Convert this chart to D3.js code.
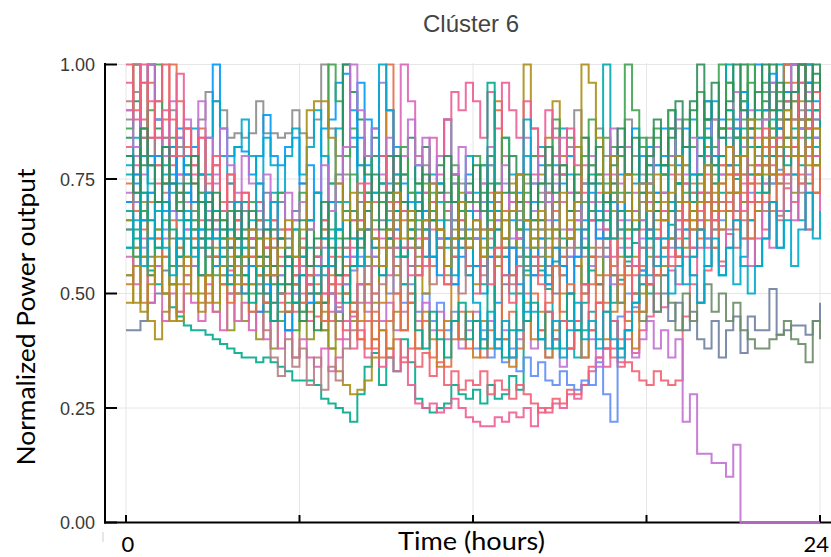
<!DOCTYPE html>
<html>
<head>
<meta charset="utf-8">
<script src="https://cdn.jsdelivr.net/npm/d3@7"></script>
<style>
  body { margin: 0; background: #fff; }
  svg { display: block; }
</style>
</head>
<body>
<svg id="chart" width="831" height="557"></svg>
<script>
// normalized power, in %, one value per 15 min (96 steps + closing value)
const s01 = [60,64,58,55,52,50,47,45, 43,42,42,41,40,39,38,37, 36,36,35,36,35,34,33,31, 31,31,30,27,26,25,24,22,
             28,34,37,30,36,33,40,35, 27,25,24,25,26,30,28,27, 29,26,30,27,28,32,29,55, 60,55,51,57,62,58,64,60,
             55,52,58,48,53,57,61,55, 50,54,60,65,58,62,68,64, 70,66,72,68,75,70,66,72, 78,74,80,76,82,78,74,80, 76];
const s02 = [70,78,66,72,80,74,68,76, 64,70,62,58,66,60,55,62, 58,52,56,50,54,48,52,46, 50,44,48,42,46,40,44,38,
             42,36,40,34,38,33,36,30, 26,25,26,24,25,27,25,23, 22,21,21,23,22,24,23,25, 21,25,24,26,25,28,27,30,
             33,36,34,38,35,40,37,42, 45,50,47,55,52,58,54,60, 62,68,64,70,66,74,70,76, 72,78,74,80,76,84,80,86, 82];
const s03 = [82,76,88,80,74,84,78,72, 76,70,66,72,64,68,60,64, 58,62,54,60,52,56,50,54, 48,52,45,50,44,47,42,46,
             40,44,38,42,36,40,35,38, 34,37,32,35,30,33,29,31, 30,33,28,31,29,27,30,28, 26,24,25,27,26,29,28,30,
             34,36,38,36,34,35,33,31, 30,33,31,30,31,45,52,48, 55,60,57,63,60,66,62,68, 64,70,67,73,70,76,72,78, 74];
const s04 = [66,72,68,62,70,64,74,68, 72,66,76,70,64,68,60,66, 62,58,64,56,60,54,58,52, 56,50,54,48,52,46,50,55,
             58,52,60,54,50,56,48,52, 46,50,44,48,42,46,40,44, 38,42,36,40,35,38,33,36, 32,35,31,30,33,30,29,31,
             30,35,28,22,45,50,47,55, 52,58,54,62,58,64,60,66, 62,70,66,72,68,76,72,78, 74,80,77,84,80,86,82,88, 84];
const s05 = [72,80,76,84,78,70,82,76, 70,78,72,66,74,68,62,70, 64,58,66,60,54,62,56,50, 58,52,48,56,50,46,54,48,
             52,46,50,44,48,42,46,50, 44,48,42,46,40,44,38,42, 46,40,44,38,42,36,40,44, 38,42,36,40,34,38,42,36,
             40,34,38,44,38,42,36,40, 44,38,42,36,40,22,28,15, 15,13,13,10,17,0,0,0, 0,0,0,0,0,0,0,0, 0];
const s06 = [42,42,44,48,50,55,52,58, 62,56,60,66,58,64,70,62, 68,60,66,72,64,70,62,68, 74,66,72,64,70,76,68,62,
             70,64,58,66,72,60,68,56, 64,58,70,62,56,66,60,54, 62,56,64,58,52,60,66,58, 54,62,56,50,58,64,56,52,
             58,52,60,54,48,56,50,46, 52,46,50,44,48,42,46,40, 38,44,36,42,45,37,45,42, 42,51,41,42,43,43,41,44, 48];
const s07 = [54,60,66,58,64,70,62,56, 62,68,60,54,62,56,50,58, 52,60,54,48,56,50,58,52, 46,54,48,56,50,44,52,58,
             64,56,62,70,60,66,58,64, 70,62,68,74,66,60,68,62, 56,64,58,66,60,54,62,56, 64,58,52,60,54,62,56,50,
             58,52,46,54,48,56,50,44, 52,46,54,48,42,50,44,48, 52,46,50,44,48,42,40,38, 38,40,41,44,40,39,35,44, 40];
const s08 = [88,94,86,100,92,84,90,82, 86,80,88,94,92,90,84,85, 84,85,92,85,85,84,85,90, 85,84,88,100,86,80,76,82,
             78,72,80,74,68,76,70,66, 72,78,70,64,72,66,74,68, 62,70,64,58,66,60,68,74, 80,72,78,86,76,82,90,84,
             78,86,80,74,82,88,80,76, 84,78,72,80,86,78,70,76, 82,88,80,76,84,90,86,80, 88,94,86,92,100,90,96,88, 92];
const s09 = [80,74,84,78,88,82,76,86, 78,82,76,70,100,86,80,82, 81,76,80,89,80,78,82,84, 74,78,72,86,88,96,98,90,
             84,78,86,80,74,82,76,70, 78,72,66,74,68,62,70,76, 68,62,70,64,58,66,72,64, 70,78,72,66,74,80,72,66,
             74,68,62,70,76,68,74,80, 72,78,86,80,74,82,88,80, 86,92,84,78,88,94,86,82, 90,96,88,100,94,86,100,92, 96];
const s10 = [90,100,84,96,78,88,100,92, 82,74,86,70,78,66,74,62, 70,58,66,54,62,50,58,48, 56,46,52,44,50,60,54,48,
             56,64,50,60,100,74,66,72, 60,68,56,64,52,60,70,62, 56,64,72,60,68,54,62,70, 62,54,60,68,58,50,56,64,
             52,60,48,56,64,54,46,52, 60,54,62,70,58,66,74,64, 72,80,70,78,86,76,84,74, 82,90,80,88,96,86,100,90, 96];
const s11 = [86,100,80,90,100,74,84,70, 78,66,72,62,68,58,64,54, 60,50,56,46,52,44,48,42, 46,52,58,48,100,92,80,86,
             72,80,66,74,62,70,58,66, 74,64,72,60,68,76,64,72, 80,70,78,68,60,72,64,58, 66,74,62,70,78,68,60,70,
             78,66,74,82,72,64,76,84, 76,86,78,70,80,88,76,84, 92,82,100,90,80,88,96,86, 94,84,92,100,88,96,86,94, 88];
const s12 = [54,48,58,44,40,46,52,44, 50,56,48,54,60,52,58,50, 56,62,54,48,56,64,58,52, 60,54,50,46,38,33,30,28,
             29,31,36,42,38,46,52,48, 56,50,58,64,54,62,70,60, 52,60,68,58,66,74,64,100, 86,76,84,92,80,72,82,74,
             66,74,62,70,80,68,58,66, 74,64,72,62,70,78,66,74, 82,72,80,88,76,84,74,82, 90,80,88,96,84,92,82,90, 86];
const s13 = [76,70,80,74,68,78,72,66, 72,64,70,76,66,60,68,62, 70,64,58,66,72,62,56,64, 58,66,60,54,62,70,60,56,
             64,72,62,56,64,58,52,60, 68,58,66,74,62,70,60,54, 62,52,60,68,58,50,58,66, 56,64,54,40,38,44,36,42,
             46,40,100,44,38,42,48,52, 78,68,76,86,74,82,72,80, 88,78,86,100,84,92,82,90, 80,88,100,92,84,100,90,82, 88];
const s14 = [52,58,48,54,62,50,56,46, 52,60,54,48,56,62,52,58, 50,56,62,54,60,52,46,54, 60,52,58,64,54,50,56,48,
             44,52,40,48,90,56,42,50, 38,46,40,34,44,52,40,46, 36,44,38,92,40,34,42,48, 40,46,36,42,50,38,44,36,
             42,48,40,46,54,44,38,46, 72,62,70,78,68,74,66,72, 80,70,78,68,76,84,74,70, 78,86,76,84,92,80,88,78, 84];
const s15 = [66,60,70,56,64,58,52,60, 54,62,50,58,46,54,42,50, 44,52,40,48,38,46,42,36, 44,40,48,42,38,46,50,44,
             52,58,48,56,62,54,60,66, 58,64,70,62,56,64,72,60, 66,58,64,56,62,70,60,54, 62,56,64,70,60,66,58,52,
             60,54,62,68,58,64,56,50, 58,66,56,62,70,60,68,76, 66,74,64,72,80,70,78,68, 76,84,74,82,72,80,88,78, 82];
const s16 = [78,84,72,80,88,76,82,74, 80,86,76,84,92,80,74,82, 88,80,74,84,78,72,80,86, 76,82,90,80,74,86,100,84,
             78,70,80,74,66,76,70,64, 72,66,76,70,62,74,68,80, 72,78,68,74,84,76,70,80, 74,82,70,78,86,76,68,74,
             66,74,62,70,64,56,68,60, 54,62,58,50,56,64,54,48, 56,64,54,60,52,58,66,56, 62,70,60,68,76,66,100,80, 86];
const s17 = [64,70,60,66,56,62,68,58, 64,56,62,68,58,52,60,66, 56,62,52,58,48,54,60,50, 56,48,54,60,50,46,52,58,
             62,68,58,96,90,64,60,68, 60,66,74,62,70,58,64,72, 62,70,78,66,74,62,70,60, 68,60,66,74,64,58,66,62,
             56,64,58,52,60,66,56,62, 70,62,68,60,66,74,64,70, 78,68,76,84,72,80,70,76, 84,74,82,90,80,86,76,84, 80];
const s18 = [58,52,62,48,56,44,50,46, 54,48,44,52,46,42,50,44, 48,42,46,40,44,38,42,36, 40,36,34,38,33,36,40,45,
             52,48,56,62,54,60,100,92, 80,72,84,76,68,74,66,60, 68,74,64,72,80,70,62,70, 76,66,72,80,70,64,72,78,
             70,62,68,76,66,60,68,74, 64,72,66,58,64,70,60,66, 60,68,56,64,72,62,56,62, 70,60,68,76,66,74,64,72, 68];
const s19 = [84,92,78,100,86,74,80,72, 66,74,62,70,58,64,56,62, 54,62,50,58,48,56,46,52, 44,50,42,48,56,64,100,94,
             88,76,84,72,80,68,76,84, 74,82,70,78,88,76,68,74, 64,72,80,70,62,68,76,66, 58,66,74,64,56,62,70,60,
             68,76,66,74,82,72,64,70, 78,68,76,86,74,82,92,80, 88,78,86,96,84,100,88,82, 92,100,86,94,100,88,96,100, 92];
const s20 = [92,100,86,78,84,72,80,68, 76,64,70,58,66,54,60,50, 56,46,52,42,36,32,40,34, 38,30,36,29,34,31,38,42,
             48,56,44,52,60,50,58,48, 54,62,52,60,68,58,50,56, 64,54,62,70,60,52,58,66, 56,64,72,62,54,60,68,58,
             66,58,64,72,62,56,64,70, 62,70,60,68,76,66,58,64, 72,64,70,78,68,62,70,76, 68,76,66,74,82,72,64,72, 78];
const s21 = [70,76,66,72,80,68,74,84, 76,70,64,60,56,62,54,58, 50,56,46,52,44,50,42,48, 54,48,56,62,70,64,58,66,
             96,88,72,80,70,64,74,68, 60,68,58,54,62,52,58,64, 56,50,58,48,54,60,52,46, 54,62,52,60,56,50,58,64,
             72,62,70,80,68,76,86,74, 82,72,80,90,78,86,76,84, 92,80,88,78,86,94,84,100, 90,98,86,94,100,88,96,84, 90];
const s22 = [74,68,64,70,62,58,66,60, 56,62,54,50,58,52,48,56, 52,46,54,48,44,50,46,52, 48,56,50,44,52,58,50,46,
             40,38,46,36,44,50,42,48, 38,44,36,42,34,40,46,38, 44,36,42,90,40,46,38,44, 50,42,48,56,46,52,44,50,
             58,48,54,62,52,58,50,56, 64,54,60,68,58,66,72,62, 70,60,68,76,64,72,62,70, 78,68,76,100,80,74,82,72, 78];
const s23 = [64,58,68,54,60,66,56,62, 58,64,70,60,54,62,68,58, 64,70,62,56,64,72,60,66, 72,64,58,66,74,62,68,76,
             66,72,80,70,64,74,82,72, 66,74,68,60,70,78,68,62, 70,78,66,74,84,72,64,72, 80,70,78,88,76,84,72,80,
             88,76,84,72,80,100,90,82, 74,84,76,90,80,72,82,94, 84,76,86,96,84,92,100,88, 96,86,94,84,92,100,88,96, 90];
const s24 = [90,82,96,100,88,80,92,84, 88,80,92,84,76,86,78,72, 80,74,68,76,70,64,72,66, 70,64,72,78,68,74,82,100,
             90,80,86,76,84,72,80,88, 78,84,74,80,88,76,82,72, 66,74,82,72,78,68,76,84, 74,80,70,76,84,72,66,74,
             80,70,76,86,74,82,72,66, 74,82,72,80,88,76,84,72, 80,88,76,86,94,82,90,78, 88,96,84,92,100,88,94,84, 90];
const s25 = [96,88,100,92,84,90,80,98, 86,76,84,72,78,68,76,66, 72,62,70,60,66,56,64,54, 60,52,58,50,56,48,54,60,
             66,74,64,56,62,70,60,54, 62,56,64,72,88,94,90,96, 92,84,94,86,96,90,84,92, 86,80,90,84,76,86,78,72,
             66,72,64,58,68,62,56,64, 70,62,68,76,66,74,64,72, 80,70,78,86,76,68,76,84, 74,82,90,80,88,96,86,80, 88];
const s26 = [68,62,72,66,60,70,64,58, 66,60,54,62,68,58,52,60, 54,48,56,50,44,52,58,48, 54,60,50,56,64,54,48,56,
             62,70,60,54,62,68,58,64, 42,38,46,40,36,44,48,40, 44,38,96,40,36,42,50,44, 48,40,46,38,44,50,42,48,
             76,66,72,62,68,58,64,72, 62,70,78,68,74,82,70,76, 84,74,80,90,78,86,76,82, 72,80,90,78,86,100,84,90, 82];
const s27 = [100,90,96,84,92,100,88,80, 86,78,84,74,80,70,76,66, 72,64,70,60,66,58,64,56, 62,54,60,66,58,52,60,66,
             74,64,70,80,70,62,68,60, 54,62,70,60,52,58,66,56, 50,58,52,60,54,48,56,50, 58,52,46,40,44,38,44,52,
             42,48,38,44,40,46,54,60, 52,58,66,56,62,70,60,68, 76,66,74,82,72,80,70,78, 86,76,84,92,82,100,86,94, 88];
const s28 = [60,66,56,62,70,60,54,62, 68,58,64,72,62,56,64,70, 60,66,74,64,70,62,56,64, 58,66,72,62,56,64,70,62,
             56,64,72,100,90,80,70,62, 70,64,58,66,60,54,62,68, 48,40,46,38,44,36,42,88, 46,40,38,44,36,42,48,40,
             44,38,46,40,36,42,48,54, 64,56,62,70,60,52,58,64, 56,62,54,60,66,56,50,56, 62,70,60,66,56,64,72,62, 68];
const s29 = [80,72,86,78,70,82,74,68, 74,80,70,64,72,66,60,68, 62,68,58,64,56,62,52,58, 66,56,62,70,60,54,62,68,
             60,68,76,64,72,80,70,62, 68,76,66,72,80,70,62,70, 78,68,74,64,72,80,70,76, 66,74,82,72,78,68,76,84,
             74,82,70,78,86,76,84,72, 80,88,78,84,92,82,90,100, 88,96,84,92,100,90,86,94, 100,90,96,88,94,100,92,98, 94];
const s30 = [48,56,46,52,58,50,44,52, 58,50,46,54,48,56,62,52, 58,64,56,62,54,60,66,58, 64,90,92,92,84,74,66,72,
             64,70,62,56,64,72,62,68, 60,66,74,64,56,62,70,60, 66,58,64,72,62,68,76,66, 60,68,58,64,72,62,70,100,
             96,84,72,80,70,76,66,74, 68,76,66,72,80,70,64,70, 78,68,74,82,72,80,88,76, 84,76,82,90,80,88,78,86, 80];

const seriesList = [s01, s02, s03, s04, s05, s06, s07, s08, s09, s10, s11, s12, s13, s14, s15,
                    s16, s17, s18, s19, s20, s21, s22, s23, s24, s25, s26, s27, s28, s29, s30];
const seriesColors = ["#00A98D", "#ED5E93", "#F16072", "#618DF6", "#C371D2", "#6E7FA0", "#6C8B67", "#8C8C8C",
                      "#009AFA", "#E36F47", "#3EA44E", "#AC8E18", "#00AAAE", "#C68225", "#8E971E", "#00A8CB",
                      "#9B7FE9", "#DC65B7", "#2E8F5A", "#B57E82", "#009AFA", "#E36F47", "#3EA44E", "#C371D2",
                      "#ED5E93", "#00A98D", "#F16072", "#00A8CB", "#2E8F5A", "#AC8E18"];

const yTicks = [0, 0.25, 0.5, 0.75, 1];
const xTicks = [0, 6, 12, 18, 24];
const xTickLabels = [{ v: 0, t: "0" }, { v: 24, t: "24" }];
const stepHours = 0.25;

const svg = d3.select("#chart");

const x = d3.scaleLinear().domain([0, 24]).range([126, 820]);
const y = d3.scaleLinear().domain([0, 1]).range([522.5, 64.5]);
const frameLeft = 105, frameRight = 831;

// grid
svg.append("g")
    .selectAll("line.hgrid")
    .data(yTicks.filter(d => d > 0))
    .join("line")
    .attr("x1", frameLeft).attr("x2", frameRight)
    .attr("y1", d => y(d)).attr("y2", d => y(d))
    .attr("stroke", "#e6e6e6").attr("stroke-width", 1);

svg.append("g")
    .selectAll("line.vgrid")
    .data(xTicks)
    .join("line")
    .attr("x1", d => x(d)).attr("x2", d => x(d))
    .attr("y1", 63).attr("y2", y(0))
    .attr("stroke", "#e6e6e6").attr("stroke-width", 1);

// axes frame
svg.append("line")
    .attr("x1", frameLeft).attr("x2", frameLeft)
    .attr("y1", 63).attr("y2", 523.5)
    .attr("stroke", "#000").attr("stroke-width", 2);
svg.append("line")
    .attr("x1", frameLeft - 1).attr("x2", frameRight)
    .attr("y1", 522.5).attr("y2", 522.5)
    .attr("stroke", "#000").attr("stroke-width", 2);

svg.append("g")
    .selectAll("line")
    .data(yTicks)
    .join("line")
    .attr("x1", frameLeft).attr("x2", frameLeft + 12)
    .attr("y1", d => y(d)).attr("y2", d => y(d))
    .attr("stroke", "#000").attr("stroke-width", 2);

svg.append("g")
    .selectAll("line")
    .data(xTicks)
    .join("line")
    .attr("x1", d => x(d)).attr("x2", d => x(d))
    .attr("y1", 522.5).attr("y2", 515)
    .attr("stroke", "#000").attr("stroke-width", 2);

// series
const line = d3.line()
    .x((d, i) => x(i * stepHours))
    .y(d => y(d / 100))
    .curve(d3.curveStepAfter);

svg.append("g")
    .selectAll("path")
    .data(seriesList)
    .join("path")
    .attr("d", d => line(d))
    .attr("fill", "none")
    .attr("stroke", (d, i) => seriesColors[i])
    .attr("stroke-width", 2)
    .attr("stroke-opacity", 0.9)
    .attr("stroke-linejoin", "miter");

// tick labels
svg.append("g")
    .selectAll("text")
    .data(yTicks)
    .join("text")
    .attr("x", 95)
    .attr("y", d => y(d) + 6.5)
    .attr("text-anchor", "end")
    .style("font-family", "'Liberation Sans', Arial, sans-serif")
    .style("font-size", "18px")
    .style("fill", "#3a3a3a")
    .text(d => d.toFixed(2));

svg.append("g")
    .selectAll("text")
    .data(xTickLabels)
    .join("text")
    .attr("x", d => d.v === 0 ? x(d.v) + 2 : 829)
    .attr("y", 552)
    .attr("text-anchor", d => d.v === 0 ? "middle" : "end")
    .style("font-family", "Lato, 'Open Sans', sans-serif")
    .style("font-size", "22px")
    .style("fill", "#000")
    .text(d => d.t);

// titles
svg.append("text")
    .attr("x", 471)
    .attr("y", 31.5)
    .attr("text-anchor", "middle")
    .style("font-family", "'Liberation Sans', Arial, sans-serif")
    .style("font-size", "24px")
    .style("fill", "#444")
    .text("Clúster 6");

svg.append("text")
    .attr("x", 471.5)
    .attr("y", 550)
    .attr("text-anchor", "middle")
    .attr("textLength", 147)
    .attr("lengthAdjust", "spacingAndGlyphs")
    .style("font-family", "Lato, 'Open Sans', sans-serif")
    .style("font-size", "25px")
    .style("fill", "#000")
    .text("Time (hours)");

svg.append("text")
    .attr("transform", "translate(35,317) rotate(-90)")
    .attr("text-anchor", "middle")
    .attr("textLength", 297)
    .attr("lengthAdjust", "spacingAndGlyphs")
    .style("font-family", "Lato, 'Open Sans', sans-serif")
    .style("font-size", "25px")
    .style("fill", "#000")
    .text("Normalized Power output");

// small leftover mark left of the x labels
svg.append("line")
    .attr("x1", 103).attr("x2", 103)
    .attr("y1", 532).attr("y2", 542)
    .attr("stroke", "#cfcfcf").attr("stroke-width", 1);
</script>
</body>
</html>
